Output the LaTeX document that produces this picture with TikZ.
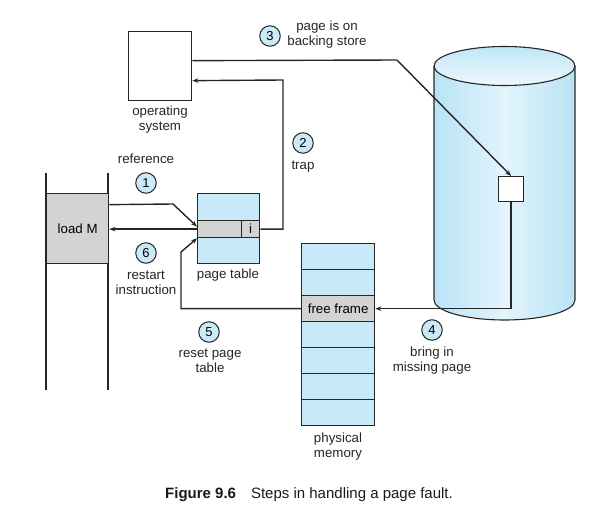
\documentclass[tikz,border=0pt]{standalone}
\usepackage{fontspec}
\setmainfont{Liberation Sans}
\usetikzlibrary{arrows.meta,calc}

\definecolor{lineclr}{HTML}{262626}
\definecolor{cellblue}{HTML}{C8E9F8}
\definecolor{cellgray}{HTML}{D3D3D3}
\definecolor{stepblue}{HTML}{CBEAF8}
\definecolor{diskedge}{HTML}{B8E3F6}
\definecolor{diskmid}{HTML}{E3F4FC}

\tikzset{
  lbl/.style={font=\fontsize{13.3}{15}\selectfont, align=center, inner sep=0pt, text=black!85},
  cell/.style={draw=lineclr, line width=1.3pt, inner sep=0pt, anchor=north west},
  stepnum/.style={circle, draw=lineclr, line width=1pt, fill=stepblue, minimum size=20.5pt,
    inner sep=0pt, font=\fontsize{13}{13}\selectfont},
  link/.style={draw=lineclr, line width=1.4pt},
  arr/.style={link, -{Stealth[length=6pt,width=4.5pt]}},
}

\begin{document}
\begin{tikzpicture}[x=1pt,y=-1pt]
\useasboundingbox (0,0) rectangle (597,522);

% backing store (disk cylinder)
\path[shade, left color=diskedge, right color=diskedge, middle color=diskmid]
  (434pt,-66pt) -- (434pt,-300pt)
  arc[start angle=180, end angle=360, x radius=70.5pt, y radius=20pt]
  -- (575pt,-66pt) -- cycle;
\draw[lineclr, line width=1.1pt]
  (434pt,-66pt) -- (434pt,-300pt)
  arc[start angle=180, end angle=360, x radius=70.5pt, y radius=20pt]
  -- (575pt,-66pt);
\draw[lineclr, line width=1.1pt, top color=diskedge!90, bottom color=diskmid!60!white]
  (504.5pt,-66pt) ellipse[x radius=70.5pt, y radius=19.5pt];
\node[cell, fill=white, minimum width=25pt, minimum height=25pt] (blk) at (498,176) {};

% operating system
\node[cell, fill=white, minimum width=63pt, minimum height=69pt] (os) at (128,31) {};
\node[lbl] (oslbl) at (160,120) {operating\\system};

% process with the load instruction
\draw[link] (46,173) -- (46,390);
\draw[link] (108,173) -- (108,390);
\node[cell, fill=cellgray, minimum width=62pt, minimum height=70pt, font=\fontsize{13.3}{15}\selectfont] (loadm) at (46,193) {load M};

% page table
\node[cell, fill=cellblue, minimum width=62pt, minimum height=27pt] (pt1) at (197,193) {};
\node[cell, fill=cellgray, minimum width=44pt, minimum height=17pt] (prow) at (197,220) {};
\node[cell, fill=cellgray, minimum width=18pt, minimum height=17pt, font=\fontsize{13.3}{15}\selectfont] (pi) at (241,220) {i};
\node[cell, fill=cellblue, minimum width=62pt, minimum height=26pt] (pt3) at (197,237) {};
\node[lbl] (ptlbl) at (228,275) {page table};

% physical memory
\foreach \k in {1,...,7} {
  \node[cell, fill=cellblue, minimum width=73pt, minimum height=26pt] (mem\k) at (301,{243+26*(\k-1)}) {};
}
\node[cell, fill=cellgray, minimum width=73pt, minimum height=26pt, font=\fontsize{13.3}{15}\selectfont] (mem3) at (301,295) {free frame};
\node[lbl] (memlbl) at (338,447) {physical\\memory};

% bend points of the connectors
\coordinate (bend3) at (397,60);
\coordinate (bend2) at (283,80);
\coordinate (bend1) at (173,204);
\coordinate (bend5) at (181,252);

% connectors
\draw[arr] ([yshift=24pt]loadm.east) -- (bend1) -- ([yshift=2.5pt]prow.west);
\draw[arr] (prow.west) -- (prow.west -| loadm.east);
\draw[arr] (pi.east) -| (bend2) -- ([yshift=-14.5pt]os.east);
\draw[link] ([yshift=5.5pt]os.east) -- (bend3);
\draw[arr] (bend3) -- (blk.north);
\draw[arr] (blk.south) |- (mem3.east);
\draw[arr] (mem3.west) -| (bend5) -- (prow.south west);

% step markers and labels
\node[stepnum] (s1) at (146,183) {1};
\node[lbl] (l1) at (146,159) {reference};
\node[stepnum] (s2) at (303,143) {2};
\node[lbl] (l2) at (303,167) {trap};
\node[stepnum] (s3) at (270,36) {3};
\node[lbl] (l3) at (327,35) {page is on\\backing store};
\node[stepnum] (s4) at (432,330) {4};
\node[lbl] (l4) at (432,361) {bring in\\missing page};
\node[stepnum] (s5) at (209,332) {5};
\node[lbl] (l5) at (210,361) {reset page\\table};
\node[stepnum] (s6) at (146,253) {6};
\node[lbl] (l6) at (146,283) {restart\\instruction};

% caption
\node[anchor=west, inner sep=0pt, font=\fontsize{15}{17}\selectfont, text=black!90] (cap) at (165,495)
  {\textbf{Figure 9.6}\hspace{1em}Steps in handling a page fault.};
\end{tikzpicture}
\end{document}
